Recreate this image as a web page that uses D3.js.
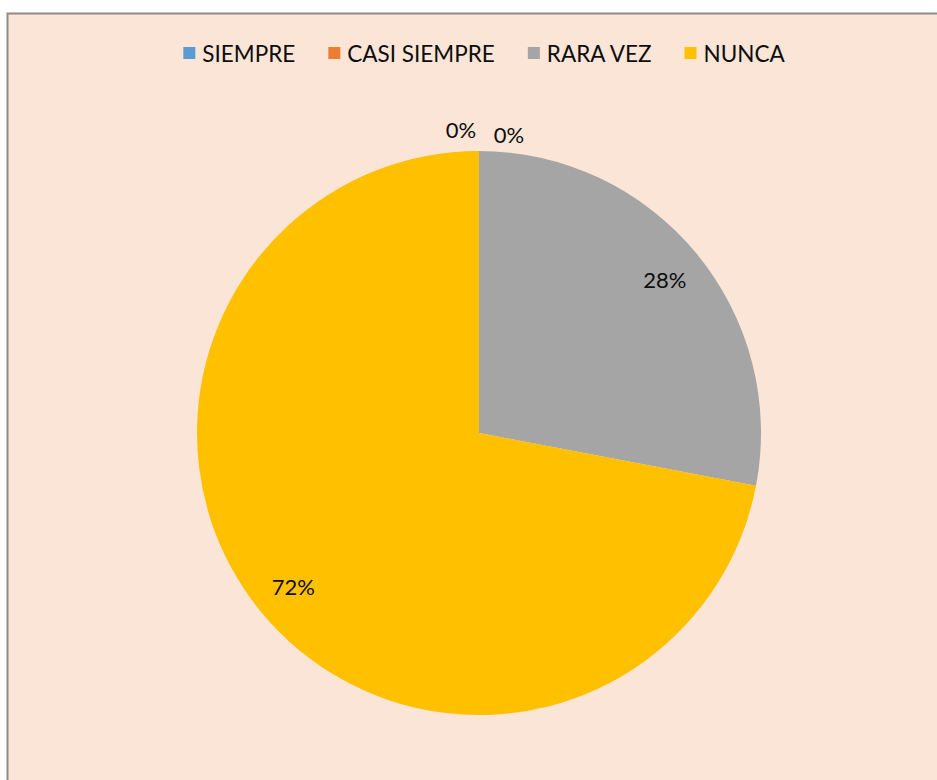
<!DOCTYPE html>
<html>
<head>
<meta charset="utf-8">
<script src="https://cdn.jsdelivr.net/npm/d3@7"></script>
<style>
	body { margin: 0; background: #fff; }
	svg text { font-family: "Lato", "Liberation Sans", sans-serif; fill: #0d0d0d; }
</style>
</head>
<body>
<svg id="chart" width="937" height="780"></svg>
<script>
// respuestas de la encuesta
var categories = ["SIEMPRE", "CASI SIEMPRE", "RARA VEZ", "NUNCA"];
var counts = [0, 0, 7, 18];
var colors = ["#5B9BD5", "#ED7D31", "#A5A5A5", "#FFC000"];

var svg = d3.select("#chart");

// chart area + border (right/bottom edges fall outside the picture)
svg.append("rect")
	.attr("x", 7.5).attr("y", 13.5)
	.attr("width", 935).attr("height", 780)
	.attr("fill", "#FBE5D6")
	.attr("stroke", "#8C8C8C")
	.attr("stroke-width", 2);

var data = categories.map(function(c, i) {
	return { label: c, value: counts[i], color: colors[i] };
});
var total = d3.sum(counts);

var cx = 479, cy = 433, R = 282;

var pie = d3.pie().sort(null).value(function(d) { return d.value; });
var arc = d3.arc().innerRadius(0).outerRadius(R);
var labelArc = d3.arc().innerRadius(R * 0.855).outerRadius(R * 0.855);

var g = svg.append("g").attr("transform", "translate(" + cx + "," + cy + ")");
var arcs = pie(data);

g.selectAll("path")
	.data(arcs)
	.enter().append("path")
	.attr("d", arc)
	.attr("fill", function(d) { return d.data.color; });

// data labels
var pct = function(d) { return Math.round(d.data.value / total * 100) + "%"; };
var zeroIdx = 0;
g.selectAll("text.lbl")
	.data(arcs)
	.enter().append("text")
	.attr("class", "lbl")
	.attr("text-anchor", "middle")
	.attr("dominant-baseline", "central")
	.style("font-size", "22px")
	.attr("x", function(d) {
		if (d.data.value === 0) {
			// zero slices sit outside, nudged apart like excel does
			var nudge = zeroIdx++ === 0 ? -18 : 30;
			return Math.sin(d.startAngle) * (R + 20) + nudge;
		}
		return labelArc.centroid(d)[0];
	})
	.attr("y", function(d) {
		if (d.data.value === 0) return -Math.cos(d.startAngle) * (R + 21) + (d.index === 0 ? -1 : 4);
		return labelArc.centroid(d)[1];
	})
	.text(pct);

// legend
var legend = svg.append("g").attr("transform", "translate(0,53)");
var items = legend.selectAll("g")
	.data(data)
	.enter().append("g");

items.append("rect")
	.attr("width", 12).attr("height", 12)
	.attr("y", -6)
	.attr("fill", function(d) { return d.color; });

items.append("text")
	.attr("x", 19)
	.attr("dominant-baseline", "central")
	.style("font-size", "22.5px")
	.text(function(d) { return d.label; });

var gap = 33, x = 0, widths = [];
items.each(function() {
	var w = 19 + d3.select(this).select("text").node().getComputedTextLength();
	widths.push(w);
});
var totalW = d3.sum(widths) + gap * (widths.length - 1);
x = 484 - totalW / 2;
items.attr("transform", function(d, i) {
	var t = "translate(" + x + ",0)";
	x += widths[i] + gap;
	return t;
});
</script>
</body>
</html>
